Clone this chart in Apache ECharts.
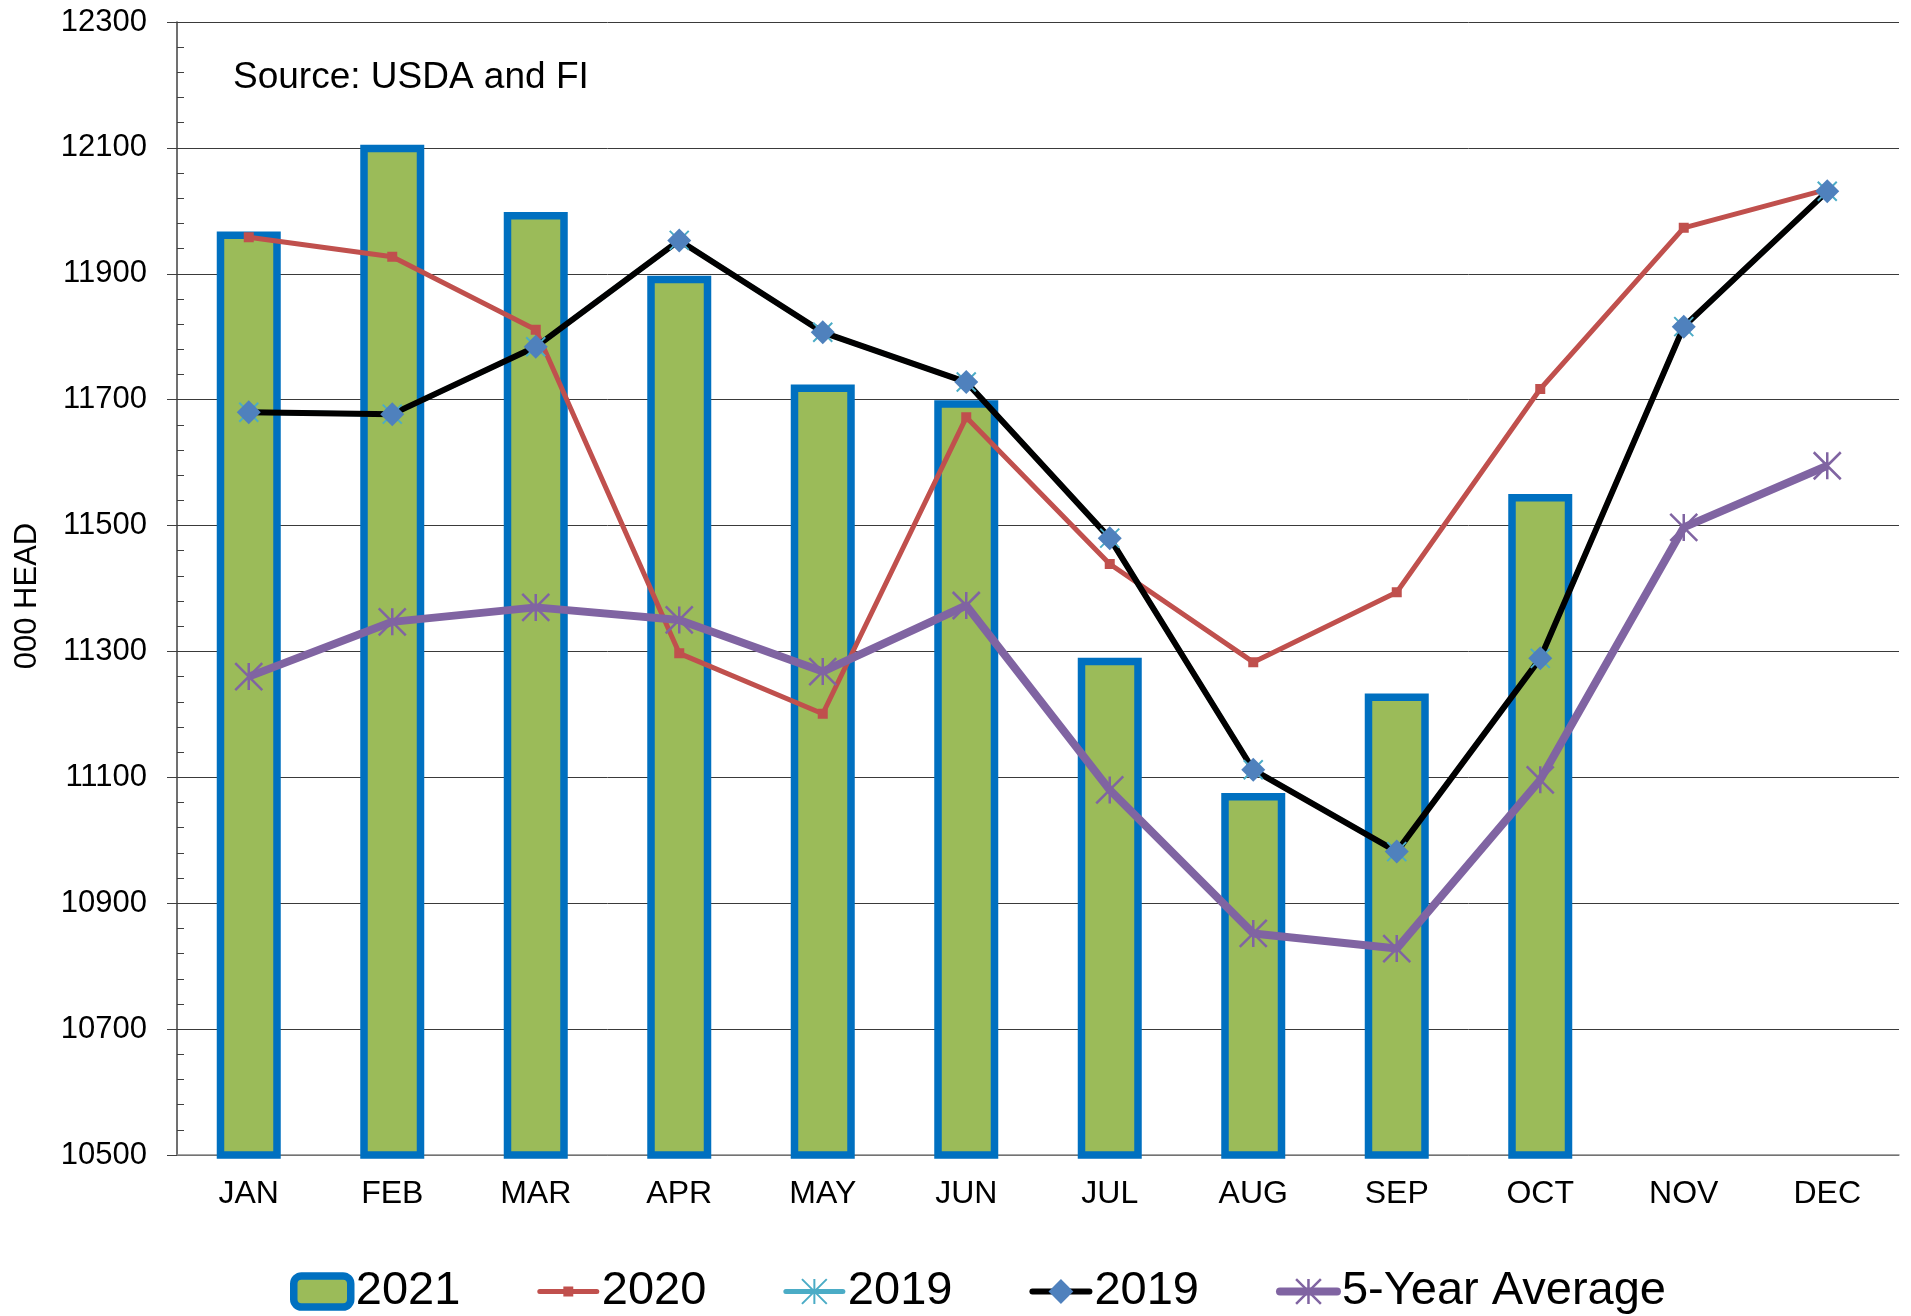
<!DOCTYPE html>
<html>
<head>
<meta charset="utf-8">
<script src="https://cdn.jsdelivr.net/npm/echarts@6/dist/echarts.min.js"></script>
<style>
  html, body { margin: 0; padding: 0; background: #fff; }
  #chart { width: 1911px; height: 1316px; }
</style>
</head>
<body>
<div id="chart"></div>
<script>
const months = ['JAN', 'FEB', 'MAR', 'APR', 'MAY', 'JUN', 'JUL', 'AUG', 'SEP', 'OCT', 'NOV', 'DEC']

// 000 head
const head2021 = [11967, 12105, 11998, 11897, 11724, 11699, 11290, 11075, 11233, 11550]
const head2020 = [11958, 11927, 11811, 11297, 11201, 11672, 11439, 11283, 11394, 11717, 11973, 12034]
const head2019 = [11680, 11677, 11784, 11953, 11807, 11728, 11480, 11112, 10982, 11289, 11816, 12031]
const fiveYearAvg = [11260, 11347, 11370, 11350, 11268, 11373, 11080, 10852, 10828, 11096, 11497, 11595]

const yMin = 10500
const yMax = 12300
const yStep = 200

const FONT = '"Liberation Sans", Arial, sans-serif'
// small square padded inside a 10x10 box so the legend symbol stays small
const SQUARE = 'path://M0,0L0.01,0M10,10L9.99,10M3,3L7,3L7,7L3,7Z'
const STAR = 'path://M0,0L10,10M10,0L0,10M5,0L5,10'

const chart = echarts.init(document.getElementById('chart'))

chart.setOption({
    animation: false,
    backgroundColor: '#fff',
    grid: { left: 177, right: 12, top: 22, bottom: 161 },
    graphic: [{
        type: 'text',
        left: 233,
        top: 59,
        style: { text: 'Source: USDA and FI', font: '37px ' + FONT, fill: '#000' }
    }, {
        // y axis title
        type: 'text',
        x: 27,
        y: 596,
        rotation: Math.PI / 2,
        style: { text: '000 HEAD', font: '31px ' + FONT, fill: '#000', align: 'center', verticalAlign: 'middle' }
    }],
    legend: {
        left: 290,
        top: 1268,
        padding: 0,
        itemWidth: 57,
        itemHeight: 31,
        itemGap: 77,
        selectedMode: false,
        formatter: name => name.trim(),
        textStyle: { fontFamily: FONT, fontSize: 47, color: '#000' },
        itemStyle: { borderWidth: 'inherit' },
        lineStyle: { width: 'inherit', cap: 'round' },
        data: ['2021', '2020', '2019', '2019 ', '5-Year Average']
    },
    xAxis: {
        type: 'category',
        data: months,
        axisLine: { lineStyle: { color: '#868686', width: 1.5 } },
        axisTick: { length: 9, lineStyle: { color: '#868686' } },
        axisLabel: { color: '#000', fontFamily: FONT, fontSize: 32, margin: 23 }
    },
    yAxis: [{
        type: 'value',
        min: yMin,
        max: yMax,
        interval: yStep,
        axisLine: { show: true, lineStyle: { color: '#404040', width: 1.5 } },
        axisTick: { show: true, length: 10, lineStyle: { color: '#404040' } },
        axisLabel: { color: '#000', fontFamily: FONT, fontSize: 31, margin: 30, formatter: v => String(v) },
        splitLine: { lineStyle: { color: '#3a3a3a', width: 1 } }
    }, {
        // only draws the inside minor ticks
        type: 'value',
        position: 'left',
        min: yMin,
        max: yMax,
        interval: yStep,
        axisLine: { show: false },
        axisTick: { show: false, inside: true },
        minorTick: { show: true, splitNumber: 5, length: 7, lineStyle: { color: '#404040' } },
        axisLabel: { show: false },
        splitLine: { show: false }
    }],
    series: [{
        name: '2021',
        type: 'bar',
        data: head2021,
        barWidth: 64,
        itemStyle: { color: '#9BBB59', borderColor: '#0070C0', borderWidth: 7.5 }
    }, {
        name: '2020',
        type: 'line',
        data: head2020,
        symbol: SQUARE,
        symbolSize: 25,
        lineStyle: { color: '#C0504D', width: 5 },
        itemStyle: { color: '#C0504D', borderWidth: 0 }
    }, {
        name: '2019',
        type: 'line',
        data: head2019,
        symbol: STAR,
        symbolSize: 19,
        lineStyle: { color: '#4BACC6', width: 5 },
        itemStyle: { color: '#4BACC6', borderColor: '#4BACC6', borderWidth: 2 }
    }, {
        name: '2019 ',
        type: 'line',
        data: head2019,
        symbol: 'diamond',
        symbolSize: 24,
        lineStyle: { color: '#000', width: 6 },
        itemStyle: { color: '#4F81BD', borderWidth: 0 }
    }, {
        name: '5-Year Average',
        type: 'line',
        data: fiveYearAvg,
        symbol: STAR,
        symbolSize: 27,
        lineStyle: { color: '#8064A2', width: 8 },
        itemStyle: { color: '#8064A2', borderColor: '#8064A2', borderWidth: 2.5 }
    }]
})
</script>
</body>
</html>
